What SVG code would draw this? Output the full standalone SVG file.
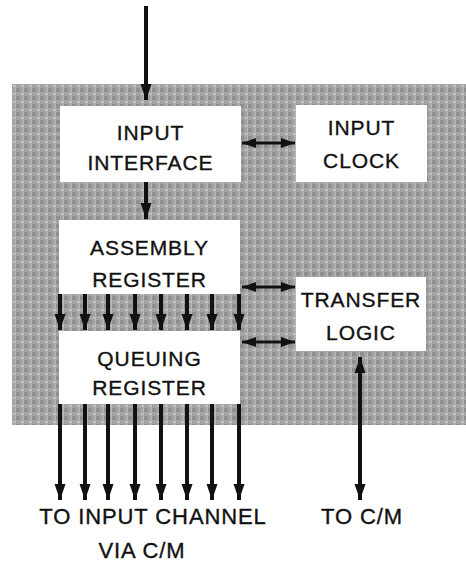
<svg xmlns="http://www.w3.org/2000/svg" width="466" height="571" viewBox="0 0 466 571">
<style>
.box{fill:#ffffff;stroke:none}
.lbl{font-family:"Liberation Sans",Arial,sans-serif;font-size:21px;letter-spacing:0.9px;fill:#111;stroke:#111;stroke-width:0.35;text-anchor:middle}
.big{font-size:22px}
.ln{stroke:#111;stroke-width:4;fill:none}
.ln2{stroke:#111;stroke-width:3;fill:none}
</style>
<defs>
<pattern id="tex" width="8" height="8" patternUnits="userSpaceOnUse">
<rect width="8" height="8" fill="#a3a3a3"/>
<rect x="0" y="0" width="4" height="4" fill="#8f8f8f"/>
<rect x="5" y="5" width="2" height="2" fill="#c4c4c4"/>
<line x1="7.5" y1="0" x2="7.5" y2="8" stroke="#b8b8b8" stroke-width="1"/>
</pattern>
<marker id="ah" markerUnits="userSpaceOnUse" markerWidth="16" markerHeight="12" viewBox="0 0 16 12" refX="16" refY="6" orient="auto-start-reverse">
<path d="M0,0.5 L16,6 L0,11.5 Z" fill="#111"/>
</marker>
<marker id="as" markerUnits="userSpaceOnUse" markerWidth="14" markerHeight="12" viewBox="0 0 14 12" refX="14" refY="6" orient="auto-start-reverse">
<path d="M0,1 L14,6 L0,11 Z" fill="#111"/>
</marker>
</defs>
<rect id="background" x="12" y="84" width="454" height="341" fill="url(#tex)"/>
<g id="input-interface">
<rect class="box" x="60" y="106" width="181" height="76"/>
<text class="lbl" x="150.5" y="140">INPUT</text>
<text class="lbl" x="150.5" y="170">INTERFACE</text>
</g>
<g id="input-clock">
<rect class="box" x="296" y="105" width="131" height="77"/>
<text class="lbl" x="361.5" y="135">INPUT</text>
<text class="lbl" x="361.5" y="168">CLOCK</text>
</g>
<g id="assembly-register">
<rect class="box" x="59" y="220" width="181" height="74"/>
<text class="lbl" x="149.5" y="255">ASSEMBLY</text>
<text class="lbl" x="149.5" y="287">REGISTER</text>
</g>
<g id="queuing-register">
<rect class="box" x="59" y="331" width="181" height="73"/>
<text class="lbl" x="149.5" y="366">QUEUING</text>
<text class="lbl" x="149.5" y="395">REGISTER</text>
</g>
<g id="transfer-logic">
<rect class="box" x="296" y="277" width="130" height="74"/>
<text class="lbl" x="361" y="307">TRANSFER</text>
<text class="lbl" x="361" y="340">LOGIC</text>
</g>
<g id="connectors">
<line class="ln" x1="146" y1="6" x2="146" y2="100" marker-end="url(#ah)"/>
<line class="ln" x1="146" y1="182" x2="146" y2="219" marker-end="url(#ah)"/>
<line class="ln2" x1="242" y1="143" x2="295" y2="143" marker-start="url(#as)" marker-end="url(#as)"/>
<line class="ln2" x1="242" y1="287" x2="295" y2="287" marker-start="url(#as)" marker-end="url(#as)"/>
<line class="ln2" x1="242" y1="342" x2="295" y2="342" marker-start="url(#as)" marker-end="url(#as)"/>
<g id="bus-mid">
<line class="ln" x1="60" y1="294" x2="60" y2="330" marker-end="url(#ah)"/>
<line class="ln" x1="85" y1="294" x2="85" y2="330" marker-end="url(#ah)"/>
<line class="ln" x1="108" y1="294" x2="108" y2="330" marker-end="url(#ah)"/>
<line class="ln" x1="135" y1="294" x2="135" y2="330" marker-end="url(#ah)"/>
<line class="ln" x1="161" y1="294" x2="161" y2="330" marker-end="url(#ah)"/>
<line class="ln" x1="187" y1="294" x2="187" y2="330" marker-end="url(#ah)"/>
<line class="ln" x1="212" y1="294" x2="212" y2="330" marker-end="url(#ah)"/>
<line class="ln" x1="239" y1="294" x2="239" y2="330" marker-end="url(#ah)"/>
</g>
<g id="bus-out">
<line class="ln" x1="60" y1="404" x2="60" y2="500" marker-end="url(#ah)"/>
<line class="ln" x1="85" y1="404" x2="85" y2="500" marker-end="url(#ah)"/>
<line class="ln" x1="108" y1="404" x2="108" y2="500" marker-end="url(#ah)"/>
<line class="ln" x1="135" y1="404" x2="135" y2="500" marker-end="url(#ah)"/>
<line class="ln" x1="161" y1="404" x2="161" y2="500" marker-end="url(#ah)"/>
<line class="ln" x1="187" y1="404" x2="187" y2="500" marker-end="url(#ah)"/>
<line class="ln" x1="212" y1="404" x2="212" y2="500" marker-end="url(#ah)"/>
<line class="ln" x1="239" y1="404" x2="239" y2="500" marker-end="url(#ah)"/>
</g>
<line class="ln" x1="360" y1="357" x2="360" y2="500" marker-start="url(#ah)" marker-end="url(#ah)"/>
</g>
<g id="labels">
<text class="lbl big" x="153" y="524">TO INPUT CHANNEL</text>
<text class="lbl big" x="142" y="558">VIA C/M</text>
<text class="lbl big" x="362" y="524">TO C/M</text>
</g>
</svg>
